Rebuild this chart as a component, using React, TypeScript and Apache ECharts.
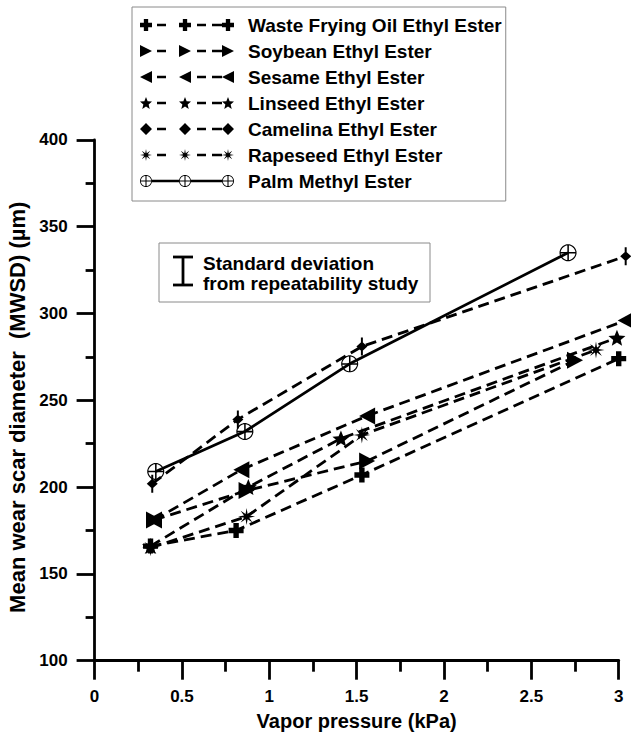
import React, { useEffect, useRef } from 'react';
import * as echarts from 'echarts';

// ---------- data ----------
const seriesNames = [
  'Waste Frying Oil Ethyl Ester',
  'Soybean Ethyl Ester',
  'Sesame Ethyl Ester',
  'Linseed Ethyl Ester',
  'Camelina Ethyl Ester',
  'Rapeseed Ethyl Ester',
  'Palm Methyl Ester',
];

const wasteX = [0.32, 0.81, 1.53, 3.0];
const wasteY = [166, 175, 207, 274];
const soybeanX = [0.34, 0.87, 1.56, 2.75];
const soybeanY = [181, 198, 215, 273];
const sesameX = [0.34, 0.84, 1.56, 3.04];
const sesameY = [181, 210, 241, 296];
const linseedX = [0.32, 0.88, 1.41, 2.99];
const linseedY = [166, 200, 228, 286];
const camelinaX = [0.33, 0.82, 1.53, 3.04];
const camelinaY = [202, 239, 281, 333];
const rapeseedX = [0.32, 0.87, 1.53, 2.87];
const rapeseedY = [165, 183, 230, 279];
const palmX = [0.35, 0.86, 1.46, 2.71];
const palmY = [209, 232, 271, 335];

const xMin = 0, xMax = 3, xStep = 0.5;
const yMin = 100, yMax = 400, yStep = 50;

const xTitle = 'Vapor pressure (kPa)';
const yTitle = 'Mean wear scar diameter  (MWSD) (\u00b5m)';
const noteLines = ['Standard deviation', 'from repeatability study'];

// ---------- marker geometry ----------
type Pt = [number, number];
type Shape = Pt[][];
const FONT = 'Arial, "Liberation Sans", Helvetica, sans-serif';

const rectPoly = (x0: number, y0: number, x1: number, y1: number): Pt[] => [
  [x0, y0], [x1, y0], [x1, y1], [x0, y1],
];
const circlePoly = (r: number, n: number, reverse: boolean): Pt[] => {
  const pts: Pt[] = [];
  for (let i = 0; i < n; i++) {
    const a = ((reverse ? -i : i) * 2 * Math.PI) / n;
    pts.push([r * Math.cos(a), r * Math.sin(a)]);
  }
  return pts;
};
const starPoly = (n: number, R: number, r: number): Pt[] => {
  const pts: Pt[] = [];
  for (let i = 0; i < 2 * n; i++) {
    const a = -Math.PI / 2 + (i * Math.PI) / n;
    const rad = i % 2 ? r : R;
    pts.push([rad * Math.cos(a), rad * Math.sin(a)]);
  }
  return pts;
};
const t = 0.18;
const plusShape: Shape = [[
  [-t, -0.5], [t, -0.5], [t, -t], [0.5, -t], [0.5, t], [t, t], [t, 0.5], [-t, 0.5],
  [-t, t], [-0.5, t], [-0.5, -t], [-t, -t],
]];
const triRightShape: Shape = [[[-0.5, -0.5], [0.5, 0], [-0.5, 0.5]]];
const triLeftShape: Shape = [[[0.5, -0.5], [0.5, 0.5], [-0.5, 0]]];
const star5Shape: Shape = [starPoly(5, 0.5, 0.22)];
const asteriskShape: Shape = [starPoly(8, 0.5, 0.16)];
const diamondShape: Shape = [[[0, -0.5], [0.5, 0], [0, 0.5], [-0.5, 0]]];
const camelinaPlotShape: Shape = [
  [[0, -5], [5, 0], [0, 5], [-5, 0]],
  rectPoly(-0.9, -9, 0.9, 9),
];
const palmShape: Shape = [
  circlePoly(0.5, 48, false),
  circlePoly(0.43, 48, true),
  rectPoly(-0.045, -0.5, 0.045, 0.5),
  rectPoly(-0.5, -0.045, 0.5, 0.045),
];

const f = (v: number) => (Math.round(v * 100) / 100).toString();
const toPath = (shape: Shape) =>
  shape.map((p) => 'M' + p.map(([x, y]) => f(x) + ',' + f(y)).join('L') + 'Z').join('');

const fitShape = (shape: Shape, bx: number, by: number, bw: number, bh: number): Shape => {
  let x0 = Infinity, y0 = Infinity, x1 = -Infinity, y1 = -Infinity;
  shape.forEach((p) => p.forEach(([x, y]) => {
    x0 = Math.min(x0, x); y0 = Math.min(y0, y); x1 = Math.max(x1, x); y1 = Math.max(y1, y);
  }));
  return shape.map((p) => p.map(([x, y]) => [
    bx + ((x - x0) / (x1 - x0)) * bw,
    by + ((y - y0) / (y1 - y0)) * bh,
  ] as Pt));
};

const LW = 94; // legend icon width
const LH = 12; // legend icon height
const legendIcon = (shape: Shape, solid: boolean) => {
  const parts: Shape = [];
  parts.push(...fitShape(shape, 0, 0, 12, LH));
  parts.push(...fitShape(shape, 39, 0, 12, LH));
  parts.push(...fitShape(shape, LW - 12, 0, 12, LH));
  const y0 = LH / 2 - 1.3, y1 = LH / 2 + 1.3;
  if (solid) {
    parts.push(rectPoly(12, y0, 39, y1));
    parts.push(rectPoly(51, y0, LW - 12, y1));
  } else {
    parts.push(rectPoly(17, y0, 26, y1));
    parts.push(rectPoly(57, y0, 66, y1));
    parts.push(rectPoly(72, y0, LW - 12, y1));
  }
  return 'path://' + toPath(parts);
};

const seriesDefs = [
  { name: seriesNames[0], xs: wasteX, ys: wasteY, shape: plusShape, size: [15, 15], solid: false },
  { name: seriesNames[1], xs: soybeanX, ys: soybeanY, shape: triRightShape, size: [16, 17], solid: false },
  { name: seriesNames[2], xs: sesameX, ys: sesameY, shape: triLeftShape, size: [16, 17], solid: false },
  { name: seriesNames[3], xs: linseedX, ys: linseedY, shape: star5Shape, size: [17, 16], solid: false },
  { name: seriesNames[4], xs: camelinaX, ys: camelinaY, shape: camelinaPlotShape, size: [11, 18], solid: false, legendShape: diamondShape },
  { name: seriesNames[5], xs: rapeseedX, ys: rapeseedY, shape: asteriskShape, size: [17, 17], solid: false },
  { name: seriesNames[6], xs: palmX, ys: palmY, shape: palmShape, size: [17, 17], solid: true },
];

export default function App() {
  const ref = useRef<HTMLDivElement>(null);
  useEffect(() => {
    document.body.style.margin = '0';
    if (!ref.current) return;
    const chart = echarts.init(ref.current, null, { renderer: 'svg' });
    const axisColor = '#000';
    const option: any = {
      animation: false,
      backgroundColor: '#fff',
      textStyle: { fontFamily: FONT },
      grid: { left: 94.6, right: 12.3, top: 139.9, bottom: 73.3, containLabel: false, outerBoundsMode: 'none' },
      xAxis: {
        type: 'value', min: xMin, max: xMax, interval: xStep,
        name: xTitle, nameLocation: 'middle', nameGap: 50,
        nameTextStyle: { fontSize: 20, fontWeight: 'bold', color: '#000', fontFamily: FONT },
        axisLine: { lineStyle: { color: axisColor, width: 2.8 } },
        axisTick: { length: 19, lineStyle: { color: axisColor, width: 2.8 } },
        minorTick: { show: true, splitNumber: 2, length: 11, lineStyle: { color: axisColor, width: 2.8 } },
        axisLabel: { fontSize: 17, fontWeight: 'bold', color: '#000', margin: 27, fontFamily: FONT },
        splitLine: { show: false },
        minorSplitLine: { show: false },
      },
      yAxis: {
        type: 'value', min: yMin, max: yMax, interval: yStep,
        name: yTitle, nameLocation: 'middle', nameGap: 61,
        nameTextStyle: { fontSize: 22, fontWeight: 'bold', color: '#000', fontFamily: FONT, padding: [0, 14, 0, 0] },
        axisLine: { show: true, lineStyle: { color: axisColor, width: 2.8 } },
        axisTick: { show: true, length: 18, lineStyle: { color: axisColor, width: 2.8 } },
        minorTick: { show: true, splitNumber: 2, length: 9, lineStyle: { color: axisColor, width: 2.8 } },
        axisLabel: { fontSize: 17, fontWeight: 'bold', color: '#000', margin: 27, fontFamily: FONT },
        splitLine: { show: false },
        minorSplitLine: { show: false },
      },
      legend: {
        orient: 'vertical',
        left: 132, top: 7,
        padding: [8, 4, 10, 8],
        itemGap: 6,
        itemWidth: LW, itemHeight: LH,
        borderColor: '#8a8a8a', borderWidth: 1,
        backgroundColor: '#fff',
        selectedMode: false,
        itemStyle: { borderWidth: 0 },
        textStyle: { fontSize: 19, fontWeight: 'bold', color: '#000', fontFamily: FONT, lineHeight: 20, padding: [0, 0, 0, 9] },
        data: seriesDefs.map((s) => ({
          name: s.name,
          icon: legendIcon((s as any).legendShape || s.shape, s.solid),
        })),
      },
      graphic: [
        {
          type: 'rect', shape: { x: 159, y: 243, width: 271, height: 59 },
          style: { fill: '#fff', stroke: '#8a8a8a', lineWidth: 1 }, z: 10,
        },
        { type: 'line', shape: { x1: 183, y1: 257, x2: 183, y2: 285 }, style: { stroke: '#000', lineWidth: 2.8 }, z: 11 },
        { type: 'line', shape: { x1: 173, y1: 257, x2: 193, y2: 257 }, style: { stroke: '#000', lineWidth: 2.8 }, z: 11 },
        { type: 'line', shape: { x1: 173, y1: 285, x2: 193, y2: 285 }, style: { stroke: '#000', lineWidth: 2.8 }, z: 11 },
        {
          type: 'text', x: 203, y: 263, z: 11,
          style: { text: noteLines[0], fill: '#000', fontSize: 19, fontWeight: 'bold', fontFamily: FONT, verticalAlign: 'middle' },
        },
        {
          type: 'text', x: 203, y: 283, z: 11,
          style: { text: noteLines[1], fill: '#000', fontSize: 19, fontWeight: 'bold', fontFamily: FONT, verticalAlign: 'middle' },
        },
      ],
      series: seriesDefs.map((s) => ({
        name: s.name,
        type: 'line',
        clip: false,
        data: s.xs.map((x, i) => [x, s.ys[i]]),
        symbol: 'path://' + toPath(s.shape),
        symbolSize: s.size,
        showSymbol: true,
        color: '#000',
        itemStyle: { color: '#000', borderWidth: 0 },
        lineStyle: { color: '#000', width: 2.8, type: s.solid ? 'solid' : [11, 6] },
        emphasis: { disabled: true },
      })),
    };
    chart.setOption(option);
    return () => chart.dispose();
  }, []);
  return <div ref={ref} style={{ width: 631, height: 734 }} />;
}
